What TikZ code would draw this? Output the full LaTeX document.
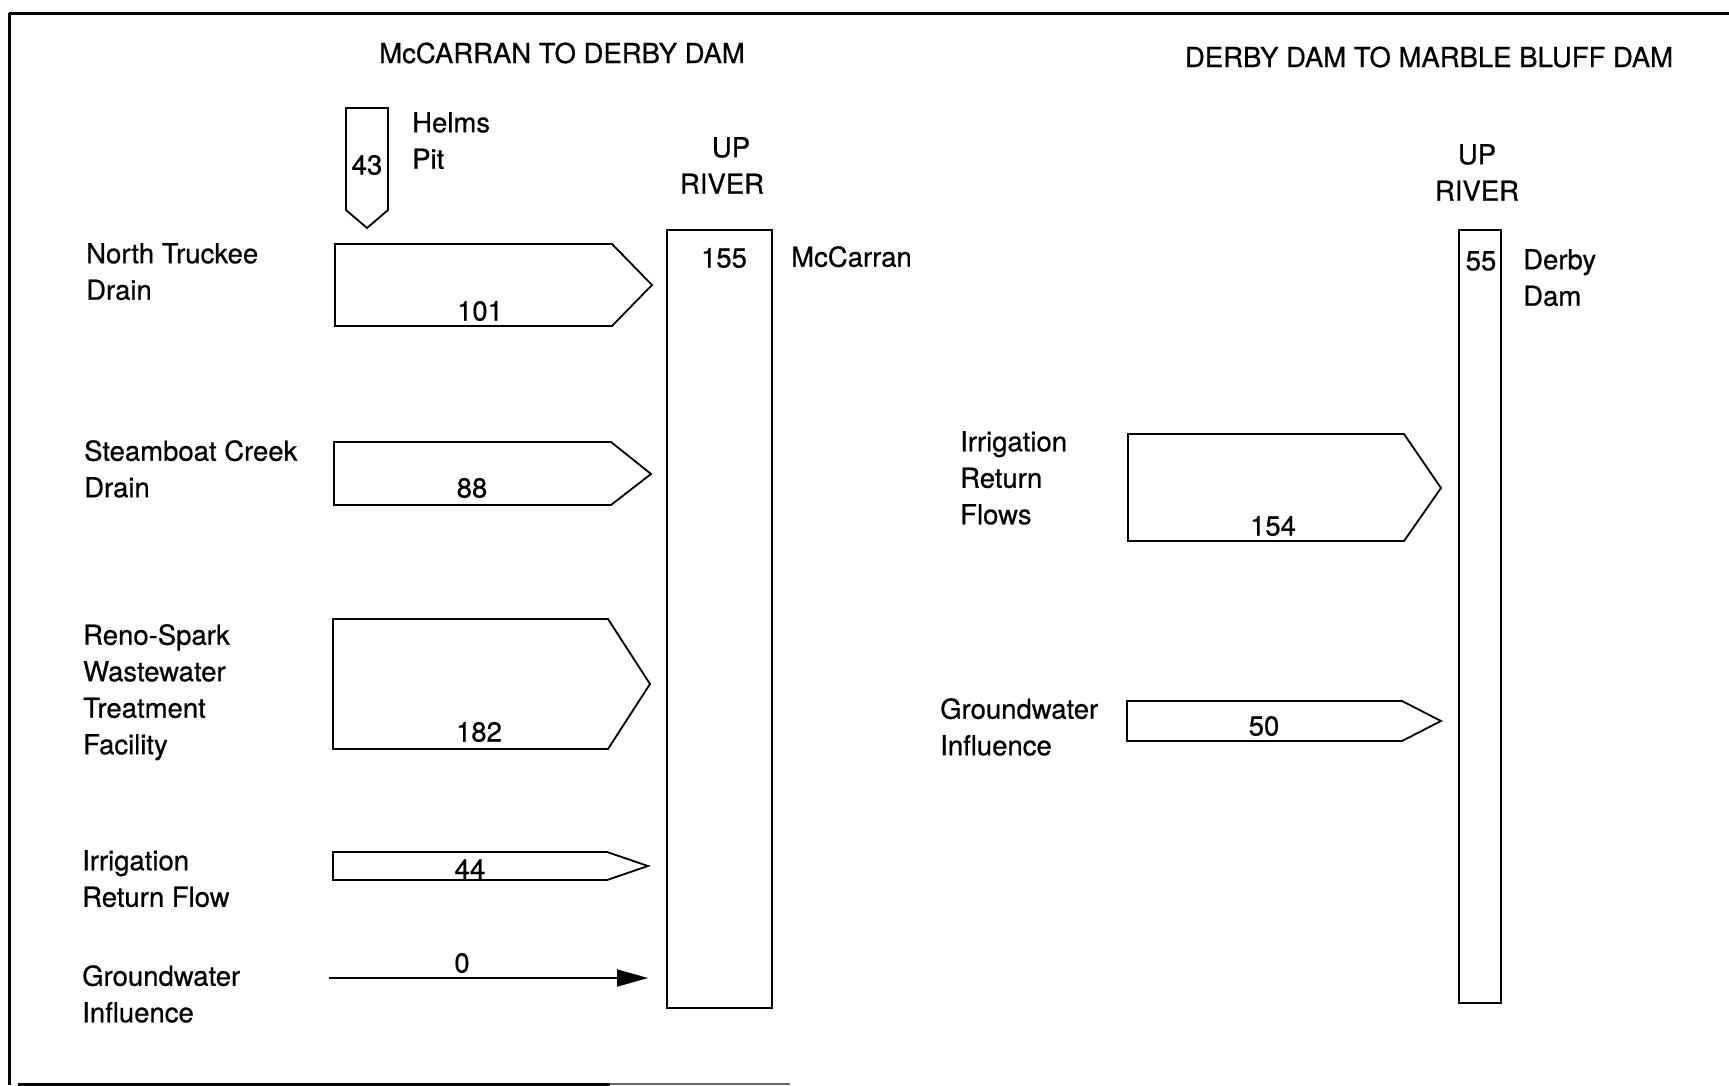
\documentclass[tikz,border=0pt]{standalone}
\usepackage{fontspec}
\setmainfont{TeX Gyre Heros}[FakeBold=0.6]
\usetikzlibrary{arrows.meta}
\begin{document}
\begin{tikzpicture}[x=1pt,y=-1pt,
  lbl/.style={font=\fontsize{27.5}{36.5}\selectfont, align=left, anchor=north west, inner sep=0pt},
  num/.style={font=\fontsize{27.5}{36.5}\selectfont, inner sep=0pt},
  ttl/.style={font=\fontsize{27.5}{36.5}\selectfont, inner sep=0pt},
  upr/.style={font=\fontsize{27.5}{36.5}\selectfont, align=center, anchor=north, inner sep=0pt},
  flow/.style={draw, line width=1.8pt, line join=miter, fill=white},
  river/.style={draw, line width=1.8pt, inner sep=0pt},
  frame/.style={line width=3pt}
]
\useasboundingbox (0,0) rectangle (1729,1086);

% frame
\draw[frame] (9,13) -- (9,1085);
\draw[frame] (9,14) -- (1729,14);
\draw[frame] (18,1084) -- (610,1084);
\draw[line width=2pt, black!60] (610,1084) -- (790,1084);

% titles
\node[ttl] (t1) at (562,53) {McCARRAN TO DERBY DAM};
\node[ttl] (t2) at (1429,57) {DERBY DAM TO MARBLE BLUFF DAM};

% river columns
\node[river, minimum width=105pt, minimum height=778pt] (riv1) at (719.5,619) {};
\node[river, minimum width=42pt, minimum height=773pt] (riv2) at (1480,616.5) {};
\node[upr] (up1) at (722,137) {\hspace*{18pt}UP\\RIVER};
\node[upr] (up2) at (1477,144) {UP\\RIVER};
\node[num] (n155) at (724,258) {155};
\node[num] (n55) at (1481,261) {55};
\node[lbl] (mcc) at (791,246) {McCarran};
\node[lbl] (derby) at (1523,249) {Derby\\Dam};

% Helms Pit
\draw[flow] (346,108) -- (388,108) -- (388,210) -- (367,228) -- (346,210) -- cycle;
\coordinate (helmstip) at (367,228);
\node[num] (n43) at (367,165) {43};
\node[lbl] (helms) at (412,112) {Helms\\Pit};

% left flows
\draw[flow] (335,244) -- (612,244) -- (652,285) -- (612,326) -- (335,326) -- cycle;
\coordinate (nttip) at (652,285);
\node[num] (n101) at (480,311) {101};
\node[lbl] (ntl) at (86,243) {North Truckee\\Drain};

\draw[flow] (334,442) -- (611,442) -- (651,474) -- (611,505) -- (334,505) -- cycle;
\coordinate (sctip) at (651,474);
\node[num] (n88) at (472,488) {88};
\node[lbl] (scl) at (84,440) {Steamboat Creek\\Drain};

\draw[flow] (333,619) -- (608,619) -- (650,684) -- (608,749) -- (333,749) -- cycle;
\coordinate (rstip) at (650,684);
\node[num] (n182) at (479,732) {182};
\node[lbl] (rsl) at (83,624) {Reno-Spark\\Wastewater\\Treatment\\Facility};

\draw[flow] (333,852) -- (607,852) -- (648,866) -- (607,880) -- (333,880) -- cycle;
\coordinate (irtip) at (648,866);
\node[num] (n44) at (470,869) {44};
\node[lbl] (irl) at (82,850) {Irrigation\\Return Flow};

\coordinate (gwstart) at (329,978);
\coordinate (gwend) at (648,978);
\draw[line width=1.8pt, -{Triangle[length=31pt,width=17pt]}] (gwstart) -- (gwend);
\node[num] (n0) at (462,963) {0};
\node[lbl] (gwl) at (82,965) {Groundwater\\Influence};

% right flows
\draw[flow] (1128,434) -- (1404,434) -- (1441,488) -- (1404,541) -- (1128,541) -- cycle;
\coordinate (irftip) at (1441,488);
\node[num] (n154) at (1273,526) {154};
\node[lbl] (irfl) at (960,431) {Irrigation\\Return\\Flows};

\draw[flow] (1127,701) -- (1402,701) -- (1441,721) -- (1402,741) -- (1127,741) -- cycle;
\coordinate (gw2tip) at (1441,721);
\node[num] (n50) at (1264,726) {50};
\node[lbl] (gw2l) at (940,698) {Groundwater\\Influence};
\end{tikzpicture}
\end{document}
